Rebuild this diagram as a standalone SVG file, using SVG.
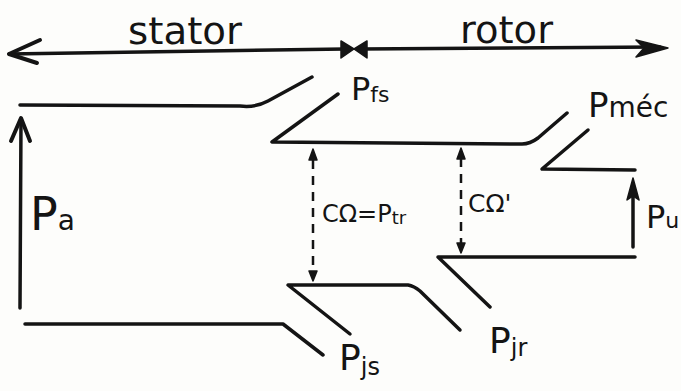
<svg xmlns="http://www.w3.org/2000/svg" width="681" height="391" viewBox="0 0 681 391">
<style>
.ln{fill:none;stroke:#141414;stroke-width:3.5;stroke-linecap:round;stroke-linejoin:round}
.hd{fill:none;stroke:#141414;stroke-width:4;stroke-linecap:round;stroke-linejoin:round}
.fh{fill:#141414;stroke:#141414;stroke-width:1.5;stroke-linejoin:round}
.dash{fill:none;stroke:#141414;stroke-width:2.5;stroke-dasharray:9 7;stroke-linecap:butt}
.t{font-family:"DejaVu Sans","Liberation Sans",sans-serif;fill:#141414}
</style>
<rect width="681" height="391" fill="#fdfdfb"/>
<g id="extents">
  <path class="ln" d="M9,54 L345,49"/>
  <path class="hd" d="M40,40 L9,54 L37,63"/>
  <path class="ln" d="M360,49 L660,47"/>
  <polygon class="fh" points="668,48 636,40 644,48 636,57"/>
  <polygon class="fh" points="341,41 354,49 367,41 367,58 354,49 341,58"/>
  <text class="t" x="128" y="44" font-size="38" textLength="114" lengthAdjust="spacingAndGlyphs">stator</text>
  <text class="t" x="460" y="43" font-size="38" textLength="93" lengthAdjust="spacingAndGlyphs">rotor</text>
</g>
<g id="connectors">
  <g id="flow-input">
    <path class="ln" d="M20,105 L240,106 Q255,108 268,101 L312,77"/>
    <path class="ln" d="M25,324 L283,324 L323,355"/>
  </g>
  <g id="flow-airgap">
    <path class="ln" d="M338,94 L272,142 L522,144 Q530,144 538,138 L567,113"/>
    <path class="ln" d="M350,334 L288,285 L408,285 Q414,286 420,291 L460,330"/>
  </g>
  <g id="flow-output">
    <path class="ln" d="M588,130 L542,169 L635,170"/>
    <path class="ln" d="M635,257 L438,257 L490,307"/>
  </g>
  <g id="arrow-Pa">
    <path class="ln" d="M20,308 L21,120"/>
    <path class="hd" d="M11,141 L21,118 L30,141"/>
  </g>
  <g id="arrow-Pu">
    <path class="ln" d="M633,247 L633,184"/>
    <polygon class="fh" points="633,178 627,200 633,196 639,200"/>
  </g>
  <g id="arrow-Ptr">
    <path class="dash" d="M313,160 L313,272"/>
    <polygon class="fh" points="313,149 309,160 317,160"/>
    <polygon class="fh" points="313,281 309,271 317,271"/>
  </g>
  <g id="arrow-Cs">
    <path class="dash" d="M461,158 L461,244"/>
    <polygon class="fh" points="461,148 457,159 465,159"/>
    <polygon class="fh" points="461,253 457,243 465,243"/>
  </g>
</g>
<g id="label-Pa"><text class="t" x="30" y="230" font-size="46">P<tspan font-size="28">a</tspan></text></g>
<g id="label-Pfs"><text class="t" x="351" y="100" font-size="32">P<tspan font-size="22" dy="2">fs</tspan></text></g>
<g id="label-Pmec"><text class="t" x="588" y="117" font-size="34">P<tspan font-size="28">méc</tspan></text></g>
<g id="label-Pu"><text class="t" x="646" y="228" font-size="32">P<tspan font-size="22">u</tspan></text></g>
<g id="label-Ptr"><text class="t" x="322" y="222" font-size="24">CΩ=P<tspan font-size="18" dy="2">tr</tspan></text></g>
<g id="label-Cs"><text class="t" x="468" y="212" font-size="25">CΩ'</text></g>
<g id="label-Pjs"><text class="t" x="339" y="370" font-size="36">P<tspan font-size="24" dy="5">js</tspan></text></g>
<g id="label-Pjr"><text class="t" x="489" y="353" font-size="36">P<tspan font-size="24" dy="3">jr</tspan></text></g>
</svg>
